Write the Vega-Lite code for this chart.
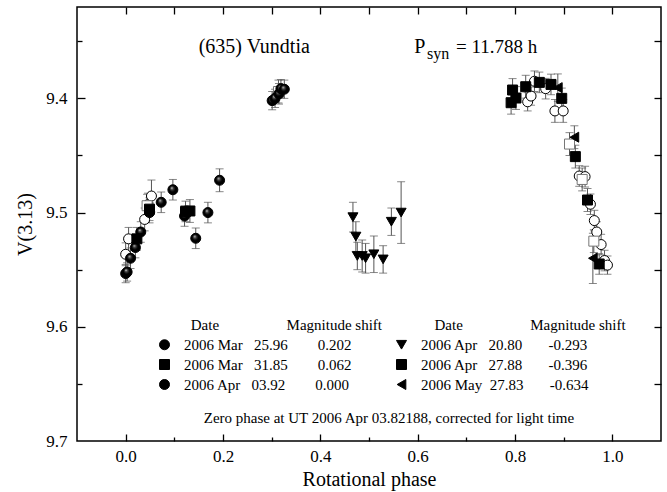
{
  "$schema": "https://vega.github.io/schema/vega-lite/v6.json",
  "width": 584,
  "height": 434,
  "autosize": {"type": "none"},
  "padding": {"left": 77, "top": 7, "right": 6, "bottom": 51},
  "background": "white",
  "config": {
    "view": {"stroke": "black", "strokeWidth": 1.5},
    "font": "Liberation Serif, Times New Roman, DejaVu Serif, serif",
    "axis": {
      "domain": false, "grid": false, "tickColor": "black", "tickWidth": 1.3,
      "labelFont": "Liberation Serif, Times New Roman, DejaVu Serif, serif", "labelFontSize": 17, "labelColor": "black",
      "titleFont": "Liberation Serif, Times New Roman, DejaVu Serif, serif", "titleFontSize": 20, "titleFontWeight": "normal", "titleColor": "black"
    },
    "text": {"font": "Liberation Serif, Times New Roman, DejaVu Serif, serif", "color": "black"}
  },
  "datasets": {
    "obs": [
      {"set": "Mar25", "phase": 0.000, "mag": 9.5365, "err": 0.010},
      {"set": "Mar25", "phase": 0.006, "mag": 9.523, "err": 0.010},
      {"set": "Mar25", "phase": 0.039, "mag": 9.506, "err": 0.010},
      {"set": "Mar25", "phase": 0.046, "mag": 9.493, "err": 0.010},
      {"set": "Mar25", "phase": 0.053, "mag": 9.4855, "err": 0.014},
      {"set": "Mar25", "phase": 0.826, "mag": 9.403, "err": 0.008},
      {"set": "Mar25", "phase": 0.833, "mag": 9.398, "err": 0.008},
      {"set": "Mar25", "phase": 0.840, "mag": 9.385, "err": 0.009},
      {"set": "Mar25", "phase": 0.863, "mag": 9.3915, "err": 0.009},
      {"set": "Mar25", "phase": 0.882, "mag": 9.411, "err": 0.010},
      {"set": "Mar25", "phase": 0.899, "mag": 9.411, "err": 0.010},
      {"set": "Mar25", "phase": 0.932, "mag": 9.468, "err": 0.009},
      {"set": "Mar25", "phase": 0.944, "mag": 9.4685, "err": 0.009},
      {"set": "Mar25", "phase": 0.955, "mag": 9.4927, "err": 0.009},
      {"set": "Mar25", "phase": 0.963, "mag": 9.507, "err": 0.009},
      {"set": "Mar25", "phase": 0.968, "mag": 9.517, "err": 0.009},
      {"set": "Mar25", "phase": 0.977, "mag": 9.528, "err": 0.009},
      {"set": "Mar25", "phase": 0.984, "mag": 9.542, "err": 0.009},
      {"set": "Mar25", "phase": 0.990, "mag": 9.546, "err": 0.008},
      {"set": "Mar31", "phase": 0.044, "mag": 9.494, "err": 0.010},
      {"set": "Mar31", "phase": 0.314, "mag": 9.394, "err": 0.010},
      {"set": "Mar31", "phase": 0.912, "mag": 9.440, "err": 0.010},
      {"set": "Mar31", "phase": 0.938, "mag": 9.471, "err": 0.010},
      {"set": "Mar31", "phase": 0.962, "mag": 9.525, "err": 0.010},
      {"set": "Apr03", "phase": 0.000, "mag": 9.5534, "err": 0.008},
      {"set": "Apr03", "phase": 0.003, "mag": 9.552, "err": 0.008},
      {"set": "Apr03", "phase": 0.010, "mag": 9.540, "err": 0.009},
      {"set": "Apr03", "phase": 0.020, "mag": 9.5306, "err": 0.009},
      {"set": "Apr03", "phase": 0.031, "mag": 9.517, "err": 0.009},
      {"set": "Apr03", "phase": 0.049, "mag": 9.500, "err": 0.009},
      {"set": "Apr03", "phase": 0.073, "mag": 9.491, "err": 0.009},
      {"set": "Apr03", "phase": 0.097, "mag": 9.480, "err": 0.009},
      {"set": "Apr03", "phase": 0.121, "mag": 9.503, "err": 0.009},
      {"set": "Apr03", "phase": 0.144, "mag": 9.5225, "err": 0.009},
      {"set": "Apr03", "phase": 0.169, "mag": 9.500, "err": 0.009},
      {"set": "Apr03", "phase": 0.193, "mag": 9.4717, "err": 0.010},
      {"set": "Apr03", "phase": 0.301, "mag": 9.402, "err": 0.008},
      {"set": "Apr03", "phase": 0.307, "mag": 9.400, "err": 0.008},
      {"set": "Apr03", "phase": 0.315, "mag": 9.396, "err": 0.009},
      {"set": "Apr03", "phase": 0.319, "mag": 9.3915, "err": 0.008},
      {"set": "Apr03", "phase": 0.326, "mag": 9.392, "err": 0.008},
      {"set": "Apr20", "phase": 0.467, "mag": 9.504, "err": 0.013},
      {"set": "Apr20", "phase": 0.473, "mag": 9.521, "err": 0.013},
      {"set": "Apr20", "phase": 0.476, "mag": 9.538, "err": 0.012},
      {"set": "Apr20", "phase": 0.486, "mag": 9.538, "err": 0.014},
      {"set": "Apr20", "phase": 0.493, "mag": 9.540, "err": 0.013},
      {"set": "Apr20", "phase": 0.510, "mag": 9.5365, "err": 0.016},
      {"set": "Apr20", "phase": 0.529, "mag": 9.541, "err": 0.012},
      {"set": "Apr20", "phase": 0.546, "mag": 9.508, "err": 0.012},
      {"set": "Apr20", "phase": 0.566, "mag": 9.500, "err": 0.027},
      {"set": "Apr27", "phase": 0.023, "mag": 9.523, "err": 0.010},
      {"set": "Apr27", "phase": 0.049, "mag": 9.497, "err": 0.010},
      {"set": "Apr27", "phase": 0.123, "mag": 9.499, "err": 0.009},
      {"set": "Apr27", "phase": 0.132, "mag": 9.4986, "err": 0.010},
      {"set": "Apr27", "phase": 0.792, "mag": 9.4038, "err": 0.010},
      {"set": "Apr27", "phase": 0.795, "mag": 9.3927, "err": 0.010},
      {"set": "Apr27", "phase": 0.802, "mag": 9.3997, "err": 0.010},
      {"set": "Apr27", "phase": 0.822, "mag": 9.3898, "err": 0.010},
      {"set": "Apr27", "phase": 0.850, "mag": 9.386, "err": 0.009},
      {"set": "Apr27", "phase": 0.874, "mag": 9.3878, "err": 0.009},
      {"set": "Apr27", "phase": 0.896, "mag": 9.400, "err": 0.009},
      {"set": "Apr27", "phase": 0.924, "mag": 9.451, "err": 0.010},
      {"set": "Apr27", "phase": 0.949, "mag": 9.489, "err": 0.010},
      {"set": "Apr27", "phase": 0.973, "mag": 9.545, "err": 0.009},
      {"set": "May27", "phase": 0.888, "mag": 9.3906, "err": 0.012},
      {"set": "May27", "phase": 0.922, "mag": 9.434, "err": 0.010},
      {"set": "May27", "phase": 0.960, "mag": 9.540, "err": 0.022}
    ]
  },
  "layer": [
    {
      "data": {"name": "obs"},
      "mark": {"type": "errorbar", "ticks": {"size": 8}, "color": "#555", "thickness": 1},
      "encoding": {
        "x": {
          "field": "phase", "type": "quantitative",
          "scale": {"domain": [-0.1, 1.1], "nice": false, "zero": false},
          "axis": {
            "orient": "bottom", "title": "Rotational phase", "titlePadding": 5,
            "values": [0, 0.2, 0.4, 0.6, 0.8, 1.0], "format": ".1f",
            "ticks": false, "labelPadding": 7
          }
        },
        "y": {
          "field": "mag", "type": "quantitative",
          "scale": {"domain": [9.32, 9.7], "nice": false, "zero": false, "reverse": true},
          "axis": {
            "orient": "left", "title": "V(3.13)", "titlePadding": 10,
            "values": [9.4, 9.5, 9.6, 9.7], "format": ".1f",
            "ticks": false, "labelPadding": 10
          }
        },
        "yError": {"field": "err"}
      }
    },
    {
      "data": {"name": "obs"},
      "mark": {"type": "point", "filled": true, "size": 100, "opacity": 1, "strokeWidth": 1},
      "encoding": {
        "x": {
          "field": "phase", "type": "quantitative",
          "scale": {"domain": [-0.1, 1.1], "nice": false, "zero": false},
          "axis": {"orient": "top", "title": null, "labels": false, "values": [0, 0.1, 0.2, 0.3, 0.4, 0.5, 0.6, 0.7, 0.8, 0.9, 1.0], "tickSize": -7}
        },
        "y": {
          "field": "mag", "type": "quantitative",
          "scale": {"domain": [9.32, 9.7], "nice": false, "zero": false, "reverse": true},
          "axis": {"orient": "right", "title": null, "labels": false, "values": [9.35, 9.4, 9.45, 9.5, 9.55, 9.6, 9.65], "tickSize": -7}
        },
        "fill": {
          "condition": [
            {"test": "datum.set==='Mar25'||datum.set==='Mar31'", "value": "white"},
            {"test": "datum.set==='Apr03'", "value": {"gradient": "radial", "x1": 0.38, "y1": 0.3, "r1": 0, "x2": 0.5, "y2": 0.5, "r2": 0.55, "stops": [{"offset": 0, "color": "#e6e6e6"}, {"offset": 0.25, "color": "#444444"}, {"offset": 0.55, "color": "#000000"}]}}
          ],
          "value": "black"
        },
        "stroke": {"condition": {"test": "datum.set==='Mar31'", "value": "#777777"}, "value": "black"},
        "shape": {
          "field": "set", "type": "nominal",
          "scale": {"domain": ["Mar25", "Mar31", "Apr03", "Apr20", "Apr27", "May27"], "range": ["circle", "square", "circle", "triangle-down", "square", "triangle-left"]},
          "legend": {
            "orient": "none", "legendX": 80, "legendY": 311, "direction": "vertical",
            "title": "\u200b\u00a0\u00a0\u00a0\u00a0\u00a0\u00a0\u00a0\u00a0\u00a0Date\u00a0\u00a0\u00a0\u00a0\u00a0\u00a0\u00a0\u00a0\u00a0\u00a0\u00a0\u00a0\u00a0\u00a0\u00a0\u00a0\u00a0\u00a0Magnitude shift\u00a0\u00a0\u00a0\u00a0\u00a0\u00a0\u00a0\u00a0\u00a0\u00a0\u00a0\u00a0\u00a0\u00a0Date\u00a0\u00a0\u00a0\u00a0\u00a0\u00a0\u00a0\u00a0\u00a0\u00a0\u00a0\u00a0\u00a0\u00a0\u00a0\u00a0\u00a0\u00a0Magnitude shift",
            "titleFont": "Liberation Serif, Times New Roman, DejaVu Serif, serif", "titleFontSize": 15, "titleFontWeight": "normal", "titleColor": "black", "titleLimit": 700, "titlePadding": 4,
            "columns": 2, "columnPadding": 42, "rowPadding": 4,
            "labelFont": "Liberation Serif, Times New Roman, DejaVu Serif, serif", "labelFontSize": 15, "labelColor": "black", "labelLimit": 400, "labelOffset": 12,
            "symbolSize": 100, "symbolStrokeWidth": 1, "symbolOpacity": 1,
            "labelExpr": "datum.label==='Mar25' ? '2006 Mar\u00a0\u00a0\u00a025.96\u00a0\u00a0\u00a0\u00a0\u00a0\u00a0\u00a0\u00a00.202' : datum.label==='Mar31' ? '2006 Mar\u00a0\u00a0\u00a031.85\u00a0\u00a0\u00a0\u00a0\u00a0\u00a0\u00a0\u00a00.062' : datum.label==='Apr03' ? '2006 Apr\u00a0\u00a0\u00a003.92\u00a0\u00a0\u00a0\u00a0\u00a0\u00a0\u00a0\u00a00.000' : datum.label==='Apr20' ? '2006 Apr\u00a0\u00a0\u00a020.80\u00a0\u00a0\u00a0\u00a0\u00a0\u00a0\u00a0-0.293' : datum.label==='Apr27' ? '2006 Apr\u00a0\u00a0\u00a027.88\u00a0\u00a0\u00a0\u00a0\u00a0\u00a0\u00a0-0.396' : '2006 May\u00a0\u00a027.83\u00a0\u00a0\u00a0\u00a0\u00a0\u00a0\u00a0-0.634'",
            "encode": {
              "symbols": {
                "fill": {
                  "condition": [
                    {"test": "datum.value==='Mar25'||datum.value==='Mar31'", "value": "white"},
                    {"test": "datum.value==='Apr03'", "value": {"gradient": "radial", "x1": 0.38, "y1": 0.3, "r1": 0, "x2": 0.5, "y2": 0.5, "r2": 0.55, "stops": [{"offset": 0, "color": "#e6e6e6"}, {"offset": 0.25, "color": "#444444"}, {"offset": 0.55, "color": "#000000"}]}}
                  ],
                  "value": "black"
                },
                "stroke": {"condition": {"test": "datum.value==='Mar31'", "value": "#777777"}, "value": "black"}
              }
            }
          }
        }
      }
    },
    {
      "data": {"values": [{"t": "(635) Vundtia"}]},
      "mark": {"type": "text", "align": "left", "baseline": "middle", "fontSize": 20},
      "encoding": {
        "text": {"field": "t"},
        "x": {
          "datum": 0.15, "type": "quantitative", "scale": {"domain": [-0.1, 1.1], "nice": false, "zero": false},
          "axis": {
            "orient": "bottom", "title": null, "labels": false,
            "values": [0, 0.1, 0.2, 0.3, 0.4, 0.5, 0.6, 0.7, 0.8, 0.9, 1.0],
            "tickSize": {"condition": {"test": "round(datum.value*10)%2==1", "value": -4}, "value": -7}
          }
        },
        "y": {
          "datum": 9.355, "type": "quantitative", "scale": {"domain": [9.32, 9.7], "nice": false, "zero": false, "reverse": true},
          "axis": {
            "orient": "left", "title": null, "labels": false,
            "values": [9.35, 9.4, 9.45, 9.5, 9.55, 9.6, 9.65],
            "tickSize": {"condition": {"test": "round(datum.value*100)%10==5", "value": -5}, "value": -8}
          }
        }
      }
    },
    {
      "data": {"values": [{"t": "P"}]},
      "mark": {"type": "text", "align": "left", "baseline": "middle", "fontSize": 20},
      "encoding": {
        "text": {"field": "t"},
        "x": {"datum": 0.593, "type": "quantitative", "axis": null},
        "y": {"datum": 9.355, "type": "quantitative", "axis": null}
      }
    },
    {
      "data": {"values": [{"t": "syn"}]},
      "mark": {"type": "text", "align": "left", "baseline": "middle", "fontSize": 16},
      "encoding": {
        "text": {"field": "t"},
        "x": {"datum": 0.619, "type": "quantitative", "axis": null},
        "y": {"datum": 9.3615, "type": "quantitative", "axis": null}
      }
    },
    {
      "data": {"values": [{"t": "= 11.788 h"}]},
      "mark": {"type": "text", "align": "left", "baseline": "middle", "fontSize": 19},
      "encoding": {
        "text": {"field": "t"},
        "x": {"datum": 0.679, "type": "quantitative", "axis": null},
        "y": {"datum": 9.355, "type": "quantitative", "axis": null}
      }
    },
    {
      "data": {"values": [{"t": "Zero phase at UT 2006 Apr 03.82188, corrected for light time"}]},
      "mark": {"type": "text", "align": "center", "baseline": "middle", "fontSize": 15},
      "encoding": {
        "text": {"field": "t"},
        "x": {"datum": 0.541, "type": "quantitative", "axis": null},
        "y": {"datum": 9.68, "type": "quantitative", "axis": null}
      }
    }
  ],
  "resolve": {"axis": {"x": "independent", "y": "independent"}}
}
